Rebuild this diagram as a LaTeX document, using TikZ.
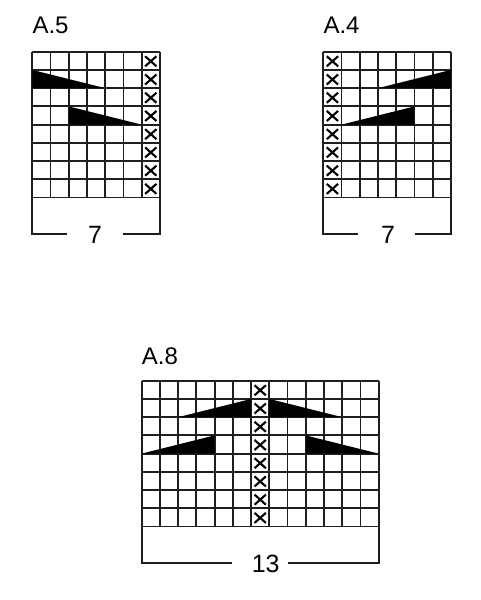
\documentclass[tikz,border=0pt]{standalone}
\usepackage{fontspec}
\setmainfont{Liberation Sans}
\tikzset{
  gridline/.style={line width=1.8bp, draw=black!88},
  cross/.style={line width=2.1bp, draw=black},
  wedge/.style={fill=black, draw=none},
  charttitle/.style={font=\fontsize{24bp}{26bp}\selectfont, anchor=base west, inner sep=0pt},
  chartcount/.style={font=\fontsize{25bp}{28bp}\selectfont, anchor=base, inner sep=0pt},
  cell/.style={x=18.23bp, y=-18.23bp}
}
\newcommand{\chartgrid}[2]{%
  \foreach \i in {0,...,#1} {\draw[gridline] (\i,0) -- (\i,#2);}
  \foreach \j in {0,...,#2} {\draw[gridline] (0,\j) -- (#1,\j);}
}
\newcommand{\xcolumn}[1]{%
  \foreach \j in {0,...,7} {%
    \draw[cross] (#1+0.19,\j+0.25) -- (#1+0.81,\j+0.80)
                 (#1+0.19,\j+0.80) -- (#1+0.81,\j+0.25);}
}
\begin{document}
\begin{tikzpicture}
\useasboundingbox (0,0) rectangle (481bp,-600bp);

% ---------- A.5 ----------
\node[charttitle] (t5) at (32.3bp,-33.3bp) {A.5};
\begin{scope}[shift={(32.3bp,-51.7bp)}, cell]
  \chartgrid{7}{8}
  \fill[wedge] (0,1) -- (0,2) -- (4,2) -- cycle;
  \fill[wedge] (2,3) -- (2,4) -- (6,4) -- cycle;
  \xcolumn{6}
  \draw[gridline] (1.92,10) -- (0,10) -- (0,8);
  \draw[gridline] (5.0,10) -- (7,10) -- (7,8);
  \node[chartcount] (n5) at (3.45,10.5) {7};
\end{scope}

% ---------- A.4 ----------
\node[charttitle] (t4) at (323.3bp,-33.3bp) {A.4};
\begin{scope}[shift={(323.3bp,-51.7bp)}, cell]
  \chartgrid{7}{8}
  \fill[wedge] (7,1) -- (7,2) -- (3,2) -- cycle;
  \fill[wedge] (5,3) -- (5,4) -- (1,4) -- cycle;
  \xcolumn{0}
  \draw[gridline] (1.92,10) -- (0,10) -- (0,8);
  \draw[gridline] (5.02,10) -- (7,10) -- (7,8);
  \node[chartcount] (n4) at (3.55,10.5) {7};
\end{scope}

% ---------- A.8 ----------
\node[charttitle] (t8) at (141.7bp,-364bp) {A.8};
\begin{scope}[shift={(141.7bp,-380.7bp)}, cell]
  \chartgrid{13}{8}
  \fill[wedge] (6,1) -- (6,2) -- (2,2) -- cycle;
  \fill[wedge] (7,1) -- (7,2) -- (11,2) -- cycle;
  \fill[wedge] (4,3) -- (4,4) -- (0,4) -- cycle;
  \fill[wedge] (9,3) -- (9,4) -- (13,4) -- cycle;
  \xcolumn{6}
  \draw[gridline] (4.97,10) -- (0,10) -- (0,8);
  \draw[gridline] (8.04,10) -- (13,10) -- (13,8);
  \node[chartcount] (n8) at (6.8,10.5) {13};
\end{scope}
\end{tikzpicture}
\end{document}
